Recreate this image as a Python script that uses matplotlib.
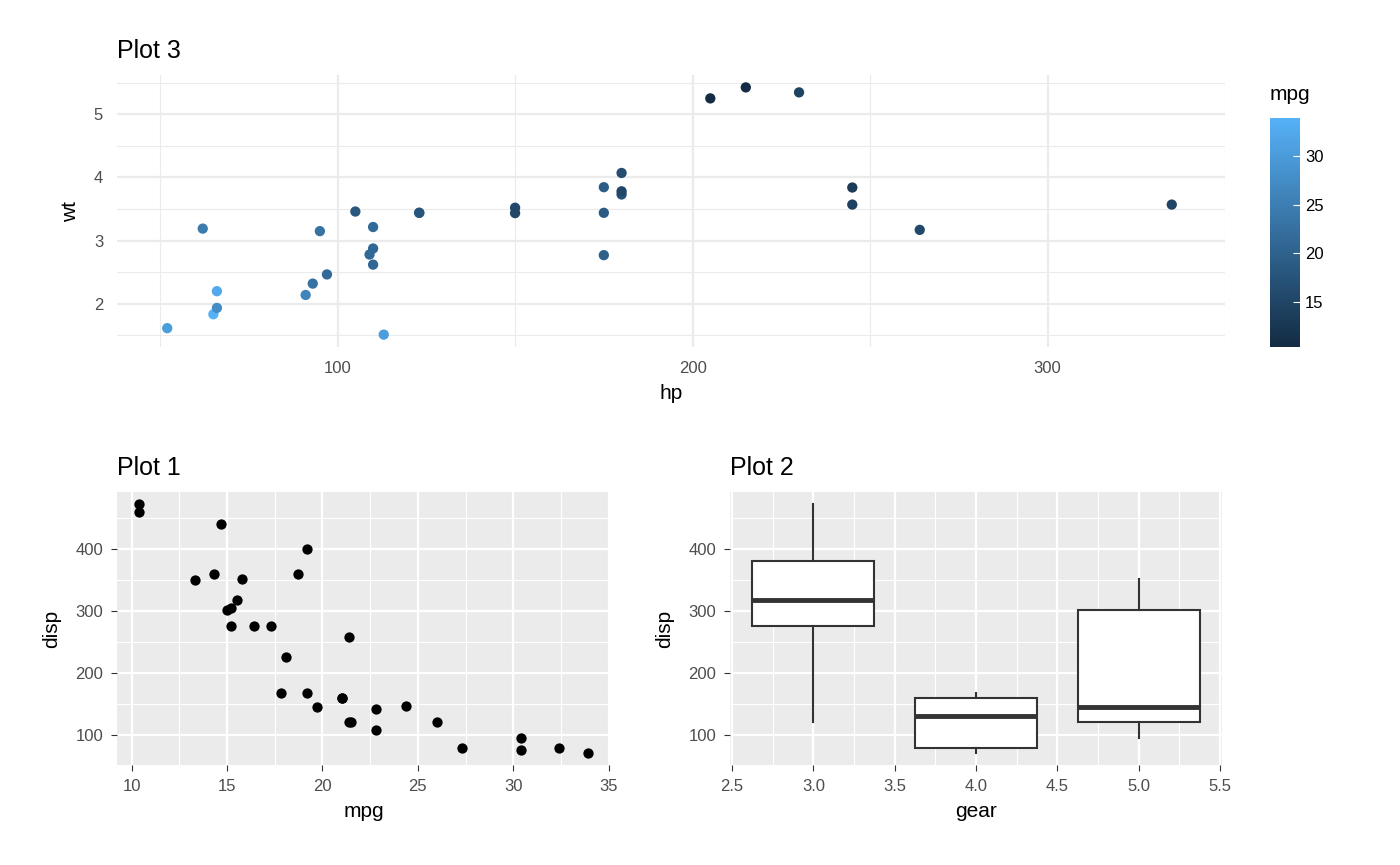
import matplotlib
matplotlib.use("Agg")
import matplotlib.pyplot as plt
import numpy as np
from matplotlib.colors import LinearSegmentedColormap, Normalize

mpg = [21.0,21.0,22.8,21.4,18.7,18.1,14.3,24.4,22.8,19.2,17.8,16.4,17.3,15.2,10.4,10.4,14.7,32.4,30.4,33.9,21.5,15.5,15.2,13.3,19.2,27.3,26.0,30.4,15.8,19.7,15.0,21.4]
disp = [160,160,108,258,360,225,360,146.7,140.8,167.6,167.6,275.8,275.8,275.8,472,460,440,78.7,75.7,71.1,120.1,318,304,350,400,79,120.3,95.1,351,145,301,121]
hp = [110,110,93,110,175,105,245,62,95,123,123,180,180,180,205,215,230,66,52,65,97,150,150,245,175,66,91,113,264,175,335,109]
wt = [2.620,2.875,2.320,3.215,3.440,3.460,3.570,3.190,3.150,3.440,3.440,4.070,3.730,3.780,5.250,5.424,5.345,2.200,1.615,1.835,2.465,3.520,3.435,3.840,3.845,1.935,2.140,1.513,3.170,2.770,3.570,2.780]
gear = [4,4,4,3,3,3,3,4,4,4,4,3,3,3,3,3,3,4,4,4,3,3,3,3,3,4,5,5,5,5,5,4]

plt.rcParams['font.family'] = ['Liberation Sans', 'DejaVu Sans']
fig = plt.figure(figsize=(14, 8.65), dpi=100)
W, H = 1400, 865
def ax_at(l, t, r, b):
    return fig.add_axes([l/W, 1-b/H, (r-l)/W, (b-t)/H])

def style(ax, grey):
    ax.set_facecolor('#EBEBEB' if grey else 'white')
    gc = 'white' if grey else '#EBEBEB'
    for s in ax.spines.values(): s.set_visible(False)
    ax.grid(True, which='major', color=gc, lw=1.6)
    ax.grid(True, which='minor', color=gc, lw=0.8)
    ax.set_axisbelow(True)
    ax.tick_params(which='both', length=4 if grey else 0, color='#333333', labelsize=12,
                   labelcolor='#4D4D4D', pad=6 if grey else 10)
    ax.tick_params(which='minor', length=0)

def labels(ax, xl, yl):
    ax.set_xlabel(xl, fontsize=15, labelpad=6)
    ax.set_ylabel(yl, fontsize=15, labelpad=10)

cmap = LinearSegmentedColormap.from_list('gg', ['#132B43', '#56B1F7'])
norm = Normalize(min(mpg), max(mpg))

# Plot 3
ax3 = ax_at(117, 75, 1225, 347)
style(ax3, False)
ax3.scatter(hp, wt, c=mpg, cmap=cmap, norm=norm, s=55, zorder=3, linewidths=0)
ax3.set_xlim(37.85, 349.15); ax3.set_ylim(1.317, 5.62)
ax3.set_xticks([100, 200, 300]); ax3.set_xticks([50,150,250,350], minor=True)
ax3.set_yticks([2,3,4,5]); ax3.set_yticks([1.5,2.5,3.5,4.5,5.5], minor=True)
labels(ax3, 'hp', 'wt')
ax3.set_title('Plot 3', loc='left', fontsize=18, pad=12)

cax = ax_at(1270, 118, 1300, 347)
sm = matplotlib.cm.ScalarMappable(norm=norm, cmap=cmap)
cb = fig.colorbar(sm, cax=cax)
cb.outline.set_visible(False)
cb.set_ticks([15, 20, 25, 30])
cb.ax.tick_params(labelsize=12, length=5, color='white', direction='in')
cax.text(0, 1.06, 'mpg', transform=cax.transAxes, fontsize=15, va='bottom')

# Plot 1
ax1 = ax_at(117, 492, 610, 765)
style(ax1, True)
ax1.scatter(mpg, disp, color='black', s=55, zorder=3, linewidths=0)
ax1.set_xlim(9.225, 35.075); ax1.set_ylim(51.05, 492.05)
ax1.set_xticks([10,15,20,25,30,35]); ax1.set_xticks([12.5,17.5,22.5,27.5,32.5], minor=True)
ax1.set_yticks([100,200,300,400]); ax1.set_yticks([150,250,350,450], minor=True)
labels(ax1, 'mpg', 'disp')
ax1.set_title('Plot 1', loc='left', fontsize=18, pad=12)

# Plot 2
ax2 = ax_at(730, 492, 1222, 765)
style(ax2, True)
g = np.array(gear); d = np.array(disp)
levels = [3, 4, 5]
data = [d[g == k] for k in levels]
ax2.boxplot(data, positions=levels, widths=0.75, patch_artist=True, zorder=3,
            boxprops=dict(facecolor='white', edgecolor='#333333', lw=1.5),
            whiskerprops=dict(color='#333333', lw=1.5), capprops=dict(lw=0),
            medianprops=dict(color='#333333', lw=3.5), flierprops=dict(marker='o', markerfacecolor='#333333', markeredgecolor='none'))
ax2.set_xlim(2.4875, 5.5125); ax2.set_ylim(51.05, 492.05)
ax2.set_xticks([2.5,3,3.5,4,4.5,5,5.5]); ax2.set_xticklabels(['2.5','3.0','3.5','4.0','4.5','5.0','5.5'])
ax2.set_xticks([2.75,3.25,3.75,4.25,4.75,5.25], minor=True)
ax2.set_yticks([100,200,300,400]); ax2.set_yticks([150,250,350,450], minor=True)
labels(ax2, 'gear', 'disp')
ax2.set_title('Plot 2', loc='left', fontsize=18, pad=12)

fig.savefig('out.png', dpi=100)
